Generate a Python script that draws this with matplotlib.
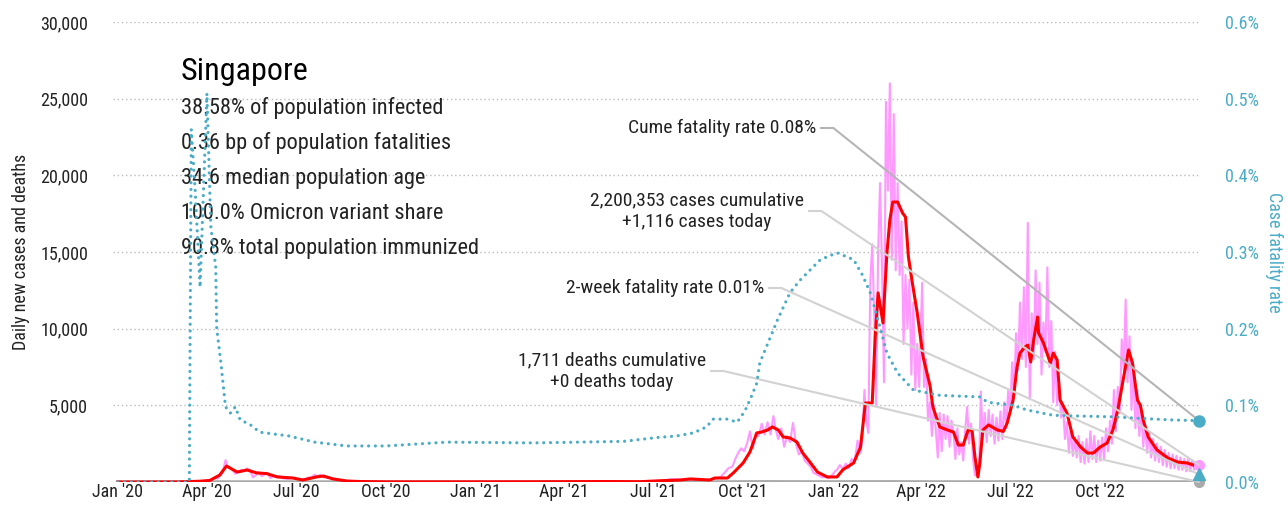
import pandas as pd
import matplotlib
matplotlib.use('Agg')
from matplotlib import pyplot as plt
from matplotlib import font_manager
import matplotlib.ticker as mticker
import matplotlib.dates as mdates

# narrow sans face if one is installed
def pickFont(candidates):
    installed = {f.name for f in font_manager.fontManager.ttflist}
    for name in candidates:
        if name in installed:
            return name
    return 'DejaVu Sans'

fontName = pickFont(['Roboto Condensed', 'Liberation Sans Narrow', 'Open Sans Condensed', 'Roboto'])
plt.rcParams['font.family'] = [fontName, 'DejaVu Sans']

country = "Singapore"
stats = ["38.58% of population infected",
         "0.36 bp of population fatalities",
         "34.6 median population age",
         "100.0% Omicron variant share",
         "90.8% total population immunized"]

cases_cumulative = 2200353
cases_today = 1116
deaths_cumulative = 1711
deaths_today = 0
cfr_cume = 0.08      # percent
cfr_2week = 0.01     # percent

# 7-day average of new cases
avg_dates = ["2020-01-01", "2020-03-01", "2020-03-25", "2020-04-04", "2020-04-14", "2020-04-21",
             "2020-05-02", "2020-05-12", "2020-05-22", "2020-06-01", "2020-06-12", "2020-06-28",
             "2020-07-08", "2020-07-22", "2020-07-29", "2020-08-08", "2020-08-22", "2020-09-04",
             "2020-10-01", "2020-12-01", "2021-03-01", "2021-05-15", "2021-06-18", "2021-07-08",
             "2021-07-29", "2021-08-08", "2021-08-28", "2021-09-02", "2021-09-15", "2021-09-21",
             "2021-10-01", "2021-10-08", "2021-10-15", "2021-10-20", "2021-10-26", "2021-10-31",
             "2021-11-06", "2021-11-11", "2021-11-18", "2021-11-25", "2021-12-01", "2021-12-09",
             "2021-12-16", "2021-12-26", "2022-01-05", "2022-01-11", "2022-01-22", "2022-01-29",
             "2022-02-03", "2022-02-10", "2022-02-13", "2022-02-16", "2022-02-21", "2022-02-25",
             "2022-02-28", "2022-03-03", "2022-03-08", "2022-03-13", "2022-03-16", "2022-03-19",
             "2022-03-23", "2022-03-28", "2022-04-03", "2022-04-10", "2022-04-13", "2022-04-20",
             "2022-04-28", "2022-05-04", "2022-05-09", "2022-05-14", "2022-05-19", "2022-05-23",
             "2022-05-26", "2022-05-29", "2022-05-31", "2022-06-03", "2022-06-09", "2022-06-18",
             "2022-06-24", "2022-06-28", "2022-07-04", "2022-07-08", "2022-07-11", "2022-07-16",
             "2022-07-19", "2022-07-22", "2022-07-25", "2022-07-29", "2022-07-30", "2022-08-04",
             "2022-08-11", "2022-08-14", "2022-08-18", "2022-08-21", "2022-08-28", "2022-09-03",
             "2022-09-11", "2022-09-18", "2022-09-24", "2022-10-01", "2022-10-08", "2022-10-14",
             "2022-10-19", "2022-10-25", "2022-10-30", "2022-11-03", "2022-11-08", "2022-11-11",
             "2022-11-14", "2022-11-19", "2022-11-28", "2022-12-09", "2022-12-19", "2022-12-29",
             "2023-01-10"]
avg_values = [0, 5, 50, 100, 450, 1040,
              650, 780, 590, 550, 330, 260,
              130, 330, 390, 200, 65, 30,
              10, 10, 15, 30, 20, 80,
              130, 200, 130, 260, 260, 590,
              1240, 1960, 3200, 3260, 3390, 3590,
              3390, 2940, 2870, 2610, 1890, 1240,
              650, 330, 330, 800, 1240, 2280,
              5150, 5150, 9460, 12330, 10370, 14930,
              17090, 18260, 18260, 17540, 17280, 14670,
              12980, 11020, 8150, 6300, 4890, 3590,
              3390, 3260, 2410, 2410, 3390, 3390,
              1630, 330, 1240, 3390, 3720, 3390,
              3300, 3850, 5350, 7500, 8410, 8800,
              8930, 7830, 9260, 10760, 9720, 9070,
              7760, 8410, 7960, 5350, 4500, 2940,
              2280, 1890, 1890, 2280, 2540, 3390,
              4700, 6850, 8610, 7760, 5350, 5020,
              4040, 2940, 2090, 1570, 1300, 1240,
              980]

# reported new cases per day
daily_dates = ["2020-01-01", "2020-03-01", "2020-03-25", "2020-04-05", "2020-04-09", "2020-04-12",
               "2020-04-15", "2020-04-17", "2020-04-20", "2020-04-22", "2020-04-25", "2020-04-27",
               "2020-04-30", "2020-05-03", "2020-05-06", "2020-05-09", "2020-05-12", "2020-05-15",
               "2020-05-18", "2020-05-21", "2020-05-24", "2020-05-27", "2020-05-30", "2020-06-02",
               "2020-06-05", "2020-06-08", "2020-06-11", "2020-06-14", "2020-06-17", "2020-06-20",
               "2020-06-23", "2020-06-26", "2020-06-29", "2020-07-02", "2020-07-05", "2020-07-08",
               "2020-07-11", "2020-07-14", "2020-07-17", "2020-07-20", "2020-07-23", "2020-07-26",
               "2020-07-29", "2020-08-01", "2020-08-04", "2020-08-07", "2020-08-10", "2020-08-13",
               "2020-08-16", "2020-08-19", "2020-08-22", "2020-08-28", "2020-09-05", "2020-09-15",
               "2020-10-01", "2020-12-01", "2021-03-01", "2021-05-15", "2021-06-18", "2021-07-10",
               "2021-07-20", "2021-07-30", "2021-08-10", "2021-08-20", "2021-08-28", "2021-09-03",
               "2021-09-08", "2021-09-12", "2021-09-16", "2021-09-20", "2021-09-23", "2021-09-26",
               "2021-09-29", "2021-10-02", "2021-10-05", "2021-10-08", "2021-10-11", "2021-10-14",
               "2021-10-17", "2021-10-20", "2021-10-23", "2021-10-26", "2021-10-29", "2021-11-01",
               "2021-11-03", "2021-11-06", "2021-11-09", "2021-11-12", "2021-11-15", "2021-11-18",
               "2021-11-21", "2021-11-24", "2021-11-27", "2021-11-30", "2021-12-03", "2021-12-06",
               "2021-12-09", "2021-12-12", "2021-12-15", "2021-12-18", "2021-12-21", "2021-12-24",
               "2021-12-28", "2021-12-31", "2022-01-03", "2022-01-05", "2022-01-08", "2022-01-11",
               "2022-01-14", "2022-01-17", "2022-01-20", "2022-01-23", "2022-01-26", "2022-01-29",
               "2022-01-31", "2022-02-02", "2022-02-04", "2022-02-06", "2022-02-08", "2022-02-10",
               "2022-02-12", "2022-02-14", "2022-02-16", "2022-02-18", "2022-02-20", "2022-02-22",
               "2022-02-24", "2022-02-26", "2022-02-28", "2022-03-02", "2022-03-04", "2022-03-06",
               "2022-03-08", "2022-03-10", "2022-03-12", "2022-03-14", "2022-03-16", "2022-03-18",
               "2022-03-20", "2022-03-22", "2022-03-24", "2022-03-26", "2022-03-28", "2022-03-30",
               "2022-04-02", "2022-04-04", "2022-04-06", "2022-04-08", "2022-04-10", "2022-04-12",
               "2022-04-14", "2022-04-16", "2022-04-18", "2022-04-20", "2022-04-22", "2022-04-24",
               "2022-04-26", "2022-04-28", "2022-04-30", "2022-05-02", "2022-05-04", "2022-05-06",
               "2022-05-08", "2022-05-10", "2022-05-12", "2022-05-14", "2022-05-16", "2022-05-18",
               "2022-05-20", "2022-05-22", "2022-05-24", "2022-05-26", "2022-05-28", "2022-05-30",
               "2022-06-01", "2022-06-03", "2022-06-05", "2022-06-07", "2022-06-09", "2022-06-11",
               "2022-06-13", "2022-06-15", "2022-06-17", "2022-06-19", "2022-06-21", "2022-06-23",
               "2022-06-25", "2022-06-27", "2022-06-29", "2022-07-01", "2022-07-03", "2022-07-05",
               "2022-07-07", "2022-07-09", "2022-07-11", "2022-07-13", "2022-07-15", "2022-07-17",
               "2022-07-19", "2022-07-21", "2022-07-23", "2022-07-25", "2022-07-27", "2022-07-29",
               "2022-07-31", "2022-08-02", "2022-08-04", "2022-08-06", "2022-08-08", "2022-08-10",
               "2022-08-12", "2022-08-14", "2022-08-16", "2022-08-18", "2022-08-20", "2022-08-22",
               "2022-08-24", "2022-08-26", "2022-08-28", "2022-08-30", "2022-09-01", "2022-09-03",
               "2022-09-05", "2022-09-07", "2022-09-09", "2022-09-11", "2022-09-13", "2022-09-15",
               "2022-09-17", "2022-09-19", "2022-09-21", "2022-09-23", "2022-09-25", "2022-09-27",
               "2022-09-29", "2022-10-01", "2022-10-03", "2022-10-05", "2022-10-07", "2022-10-09",
               "2022-10-11", "2022-10-13", "2022-10-15", "2022-10-17", "2022-10-19", "2022-10-21",
               "2022-10-23", "2022-10-25", "2022-10-27", "2022-10-29", "2022-10-31", "2022-11-02",
               "2022-11-04", "2022-11-06", "2022-11-08", "2022-11-10", "2022-11-12", "2022-11-14",
               "2022-11-16", "2022-11-18", "2022-11-20", "2022-11-22", "2022-11-24", "2022-11-26",
               "2022-11-28", "2022-11-30", "2022-12-02", "2022-12-04", "2022-12-06", "2022-12-08",
               "2022-12-10", "2022-12-12", "2022-12-14", "2022-12-16", "2022-12-18", "2022-12-20",
               "2022-12-22", "2022-12-24", "2022-12-26", "2022-12-28", "2022-12-30", "2023-01-01",
               "2023-01-03", "2023-01-05", "2023-01-07", "2023-01-10"]
daily_values = [0, 5, 60, 120, 290, 230,
                450, 620, 1430, 1020, 900, 800,
                530, 650, 790, 750, 880, 790,
                300, 450, 640, 380, 510, 550,
                260, 390, 350, 400, 250, 220,
                200, 300, 250, 200, 120, 170,
                190, 300, 280, 480, 350, 470,
                300, 310, 300, 160, 200, 90,
                85, 70, 50, 50, 40, 20,
                10, 10, 15, 30, 20, 90,
                190, 160, 100, 60, 150, 240,
                330, 600, 900, 1000, 1500, 1900,
                2200, 2000, 2500, 3300, 2200, 3200,
                3000, 3800, 3100, 3900, 3100, 4300,
                3500, 2800, 3500, 2300, 3000, 2600,
                3850, 2500, 1800, 2000, 1400, 1200,
                1000, 600, 500, 400, 300, 330,
                250, 450, 700, 800, 1100, 850,
                1200, 900, 1500, 1300, 2700, 1900,
                3000, 6000, 4000, 3200, 13000, 15500,
                11000, 5000, 15000, 19500, 14000, 6500,
                24800, 19000, 26000, 14500, 24000, 13800,
                19500, 13500, 17000, 9000, 13500, 10000,
                13200, 7000, 11700, 6000, 9000, 6200,
                13000, 6200, 8000, 4000, 5200, 3000,
                5000, 3400, 1600, 4500, 2000, 4400,
                2800, 4300, 2300, 4000, 3300, 1500,
                3500, 1800, 2600, 1400, 3400, 4900,
                2500, 3800, 1500, 450, 400, 450,
                5900, 2800, 4500, 2600, 4700, 3000,
                4400, 2500, 4200, 2700, 4600, 2800,
                5200, 3500, 6000, 4500, 7800, 5500,
                9700, 7300, 11700, 8000, 12700, 7500,
                16900, 5400, 11000, 8000, 13800, 9000,
                13000, 7000, 10400, 8500, 14000, 7500,
                10500, 5200, 8500, 5000, 6500, 4200,
                5000, 2800, 3900, 1900, 3500, 1700,
                2900, 1600, 3000, 1300, 2600, 1200,
                2800, 1300, 3300, 1500, 3000, 1300,
                2700, 1400, 2900, 1500, 3500, 2000,
                4000, 2500, 6000, 3300, 6200, 4500,
                9300, 7300, 11900, 6500, 9500, 4700,
                7500, 3500, 6000, 3000, 4700, 2300,
                3700, 1900, 3300, 1600, 2800, 1400,
                2500, 1300, 2300, 1100, 2100, 1000,
                1900, 900, 1800, 900, 1700, 800,
                1600, 800, 1500, 700, 1500, 700,
                1400, 800, 1300, 1116]

# reported deaths per day
death_dates = ["2020-01-01", "2020-04-15", "2020-07-01", "2021-01-01", "2021-09-15",
               "2021-10-25", "2021-12-15", "2022-03-01", "2022-04-15", "2022-08-01",
               "2022-10-25", "2023-01-10"]
death_values = [0, 2, 1, 0, 3, 14, 5, 12, 3, 6, 5, 0]

# case fatality rate, percent
cfr_dates = ["2020-01-01", "2020-03-14", "2020-03-16", "2020-03-20", "2020-03-25", "2020-04-01",
             "2020-04-05", "2020-04-10", "2020-04-11", "2020-04-15", "2020-04-20", "2020-04-25",
             "2020-04-30", "2020-05-05", "2020-05-15", "2020-05-25", "2020-06-24", "2020-07-20",
             "2020-08-22", "2020-10-01", "2020-12-02", "2021-03-01", "2021-06-01", "2021-07-05",
             "2021-07-25", "2021-08-11", "2021-08-18", "2021-08-25", "2021-08-31", "2021-09-15",
             "2021-09-25", "2021-10-03", "2021-10-09", "2021-10-15", "2021-10-18", "2021-11-05",
             "2021-11-18", "2021-11-28", "2021-12-19", "2022-01-05", "2022-01-22", "2022-01-31",
             "2022-02-08", "2022-02-18", "2022-02-25", "2022-03-08", "2022-03-24", "2022-04-20",
             "2022-05-31", "2022-06-08", "2022-07-04", "2022-07-18", "2022-08-14", "2022-09-11",
             "2022-10-14", "2022-11-11", "2022-12-12", "2023-01-10"]
cfr_values = [0, 0, 0.46, 0.38, 0.254, 0.507,
              0.333, 0.28, 0.2, 0.159, 0.098, 0.09,
              0.098, 0.081, 0.075, 0.065, 0.06, 0.052,
              0.047, 0.047, 0.052, 0.051, 0.053, 0.058,
              0.06, 0.064, 0.068, 0.072, 0.082, 0.082,
              0.078, 0.093, 0.11, 0.129, 0.155, 0.211,
              0.247, 0.263, 0.29, 0.299, 0.29, 0.27,
              0.247, 0.202, 0.168, 0.142, 0.12, 0.113,
              0.111, 0.104, 0.1, 0.094, 0.087, 0.086,
              0.085, 0.083, 0.081, cfr_cume]

tick_dates = pd.date_range("2020-01-01", "2022-10-01", freq="QS")

pink = '#ff99ff'
red = '#ff0000'
teal = '#4bacc6'
grey = '#aaaaaa'
textColor = '#222222'

avgDates = pd.to_datetime(avg_dates)
dailyDates = pd.to_datetime(daily_dates)
deathDates = pd.to_datetime(death_dates)
cfrDates = pd.to_datetime(cfr_dates)
lastDate = dailyDates[-1]

fig = plt.figure(figsize=(12.88, 5.24), dpi=100)
ax = fig.add_axes([113 / 1288, 42 / 524, 1087 / 1288, 460 / 524])
ax2 = ax.twinx()

ax.plot(dailyDates, daily_values, color=pink, lw=1.5, zorder=2)
ax.plot(deathDates, death_values, color=grey, lw=2.5, zorder=2)
ax.plot(avgDates, avg_values, color=red, lw=2.2, zorder=3)
ax2.plot(cfrDates, [v / 100 for v in cfr_values], color=teal, lw=2.3,
         linestyle=(0, (0.01, 2.1)), dash_capstyle='round', zorder=3)

# end-of-series markers
ax.plot([lastDate], [cases_today], 'o', color=pink, ms=7, clip_on=False, zorder=5)
ax.plot([lastDate], [deaths_today], 'o', color=grey, ms=7, clip_on=False, zorder=5)
ax2.plot([lastDate], [cfr_cume / 100], 'o', color=teal, ms=8, clip_on=False, zorder=5)
ax2.plot([lastDate], [cfr_2week / 100], '^', color=teal, ms=9, clip_on=False, zorder=5)

ax.set_xlim(pd.Timestamp("2019-12-27"), pd.Timestamp("2023-01-11"))
ax.set_ylim(0, 30000)
ax2.set_ylim(0, 0.006)

ax.set_xticks(tick_dates)
ax.xaxis.set_major_formatter(mdates.DateFormatter("%b '%y"))
ax.set_yticks([5000, 10000, 15000, 20000, 25000, 30000])
ax.yaxis.set_major_formatter(mticker.StrMethodFormatter('{x:,.0f}'))
ax2.set_yticks([0, 0.001, 0.002, 0.003, 0.004, 0.005, 0.006])
ax2.yaxis.set_major_formatter(mticker.PercentFormatter(1.0, decimals=1))

ax.grid(axis='y', color='#bbbbbb', linestyle=(0, (1, 2)), lw=1)
ax.set_axisbelow(True)
for a in (ax, ax2):
    for s in a.spines.values():
        s.set_visible(False)
ax.tick_params(axis='x', length=0, pad=1, labelsize=13, labelcolor=textColor)
ax.tick_params(axis='y', length=0, pad=18, labelsize=13, labelcolor=textColor)
ax2.tick_params(axis='y', length=0, pad=18, labelsize=13, labelcolor=teal)

ax.set_ylabel('Daily new cases and deaths', fontsize=13, color=textColor, labelpad=7)
ax2.set_ylabel('Case fatality rate', fontsize=13, color=teal, rotation=270, labelpad=17)

ax.text(0.0626, 0.8915, country, transform=ax.transAxes, fontsize=23,
        color='black', va='center', ha='left')
for i, line in enumerate(stats):
    ax.text(0.0626, 0.8130 - i * 0.0766, line, transform=ax.transAxes, fontsize=16,
            color=textColor, va='center', ha='left')

# labels with leader lines to the end markers
notes = [
    ("Cume fatality rate %.2f%%" % cfr_cume, 0.6467, 0.7696, ax2.transData, cfr_cume / 100, '#b5b5b5'),
    ("%s cases cumulative\n+%s cases today" % (format(cases_cumulative, ',d'), format(cases_today, ',d')),
     0.6357, 0.5891, ax.transData, cases_today, '#d2d2d2'),
    ("2-week fatality rate %.2f%%" % cfr_2week, 0.5989, 0.4217, ax2.transData, cfr_2week / 100, '#d2d2d2'),
    ("%s deaths cumulative\n+%d deaths today" % (format(deaths_cumulative, ',d'), deaths_today),
     0.5455, 0.2413, ax.transData, deaths_today, '#d2d2d2'),
]
for label, tx, ty, trans, value, col in notes:
    ax.text(tx, ty, label, transform=ax.transAxes, fontsize=14, color=textColor,
            ha='right', va='center', multialignment='center', linespacing=1.25)
    ax.plot([tx + 0.005, tx + 0.016], [ty, ty], transform=ax.transAxes, color=col, lw=1.5, zorder=6)
    ax.annotate('', xy=(mdates.date2num(lastDate), value), xycoords=trans,
                xytext=(tx + 0.016, ty), textcoords='axes fraction',
                arrowprops=dict(arrowstyle='-', color=col, lw=1.5, shrinkA=0, shrinkB=0),
                zorder=6)

fig.savefig('out.png', dpi=100)
plt.close()
